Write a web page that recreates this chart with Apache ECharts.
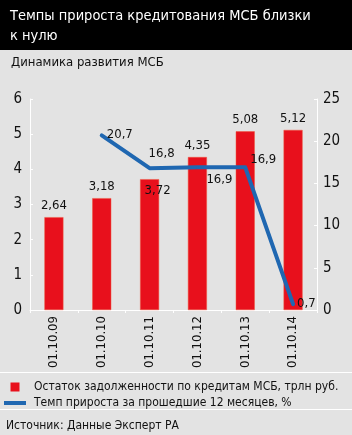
<!DOCTYPE html>
<html>
<head>
<meta charset="utf-8">
<script src="https://cdn.jsdelivr.net/npm/echarts@6/dist/echarts.min.js"></script>
<style>
  html, body { margin: 0; padding: 0; background: #e3e3e3; }
  #chart { width: 352px; height: 435px; }
</style>
</head>
<body>
<div id="chart"></div>
<script>
const FONT = "'DejaVu Sans Condensed', 'DejaVu Sans', sans-serif"

const categories = ['01.10.09', '01.10.10', '01.10.11', '01.10.12', '01.10.13', '01.10.14']
const debtValues = [2.64, 3.18, 3.72, 4.35, 5.08, 5.12]
const growthValues = [null, 20.7, 16.8, 16.9, 16.9, 0.7]
const leftTicks = [0, 6, 1]
const rightTicks = [0, 25, 5]

const debtName = 'Остаток задолженности по кредитам МСБ, трлн руб.'
const growthName = 'Темп прироста за прошедшие 12 месяцев, %'

const fmt = v => String(v).replace('.', ',')

// label placement per point (some are moved off the line like in the original)
const barLabelPos = [
  {}, {}, { position: 'insideTop', offset: [8, 0] }, {}, {}, {}
]
const lineLabelPos = [
  {},
  { position: 'right', distance: 4, offset: [0, -1] },
  { position: 'top', offset: [12, -2] },
  { position: 'bottom', offset: [22, 0] },
  { position: 'top', offset: [18, 5] },
  { position: 'right', distance: 3 }
]

const chart = echarts.init(document.getElementById('chart'))
chart.setOption({
  backgroundColor: '#e3e3e3',
  textStyle: { fontFamily: FONT },
  animation: false,
  title: [
    {
      text: 'Темпы прироста кредитования МСБ близки\nк нулю',
      left: 5, top: 1,
      textStyle: { color: '#fff', fontSize: 14.5, fontWeight: 'normal', lineHeight: 20, fontFamily: FONT }
    },
    {
      text: 'Динамика развития МСБ',
      left: 6, top: 51,
      textStyle: { color: '#111', fontSize: 13, fontWeight: 'normal', fontFamily: FONT }
    },
    {
      text: 'Источник: Данные Эксперт РА',
      left: 6, top: 420,
      padding: 0,
      textStyle: { color: '#111', fontSize: 12, fontWeight: 'normal', fontFamily: FONT }
    }
  ],
  graphic: [
    { type: 'rect', z: -1, shape: { x: 0, y: 0, width: 352, height: 50 }, style: { fill: '#000' } },
    { type: 'line', shape: { x1: 0, y1: 372.5, x2: 352, y2: 372.5 }, style: { stroke: '#fff', lineWidth: 1 } },
    { type: 'line', shape: { x1: 0, y1: 409.5, x2: 352, y2: 409.5 }, style: { stroke: '#fff', lineWidth: 1 } }
  ],
  legend: {
    orient: 'vertical',
    left: 4, top: 381,
    padding: 0,
    itemWidth: 22, itemHeight: 9, itemGap: 4,
    selectedMode: false,
    textStyle: { color: '#111', fontSize: 12, fontFamily: FONT, padding: [0, 0, 0, 3] },
    data: [
      { name: debtName, icon: 'path://M0,0h9v9h-9z', itemStyle: { borderWidth: 0 } },
      { name: growthName, icon: 'path://M0,0h22v4h-22z' }
    ]
  },
  grid: { left: 30, right: 35, top: 99, bottom: 125 },
  xAxis: {
    type: 'category',
    data: categories,
    axisLine: { lineStyle: { color: '#fff', width: 1 } },
    axisTick: { show: true, length: 3, lineStyle: { color: '#fff' } },
    axisLabel: { rotate: 90, margin: 6, color: '#111', fontSize: 13, fontFamily: FONT }
  },
  yAxis: [
    {
      type: 'value', min: leftTicks[0], max: leftTicks[1], interval: leftTicks[2],
      axisLine: { show: true, lineStyle: { color: '#fff' } },
      axisTick: { show: true, length: 3, inside: true, lineStyle: { color: '#fff' } },
      splitLine: { show: false },
      axisLabel: { margin: 8, color: '#111', fontSize: 15, fontFamily: FONT }
    },
    {
      type: 'value', min: rightTicks[0], max: rightTicks[1], interval: rightTicks[2],
      axisLine: { show: true, lineStyle: { color: '#fff' } },
      axisTick: { show: true, length: 3, inside: true, lineStyle: { color: '#fff' } },
      splitLine: { show: false },
      axisLabel: { margin: 6, color: '#111', fontSize: 15, fontFamily: FONT }
    }
  ],
  series: [
    {
      name: debtName,
      type: 'bar',
      barWidth: 19,
      itemStyle: { color: '#e8101c', borderColor: '#f0563e', borderWidth: 0.5 },
      label: {
        show: true, position: 'top', distance: 5,
        color: '#111', fontSize: 13, fontFamily: FONT,
        formatter: p => fmt(p.value)
      },
      data: debtValues.map((v, i) => ({ value: v, label: barLabelPos[i] }))
    },
    {
      name: growthName,
      type: 'line',
      yAxisIndex: 1,
      symbol: 'circle',
      symbolSize: 2,
      showSymbol: true,
      z: 5,
      lineStyle: { color: '#1f67b1', width: 4, cap: 'round', join: 'round' },
      itemStyle: { color: '#1f67b1' },
      label: {
        show: true, position: 'top', distance: 5,
        color: '#111', fontSize: 13, fontFamily: FONT,
        formatter: p => fmt(p.value)
      },
      data: growthValues.map((v, i) => ({ value: v, label: lineLabelPos[i] }))
    }
  ]
})
</script>
</body>
</html>
